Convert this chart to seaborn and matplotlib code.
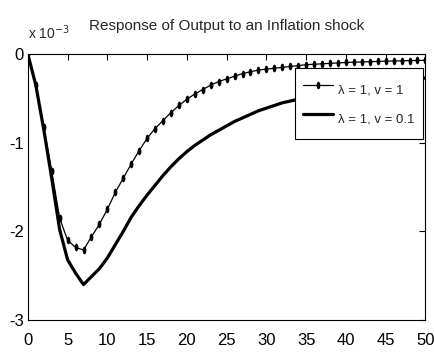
import numpy as np
import pandas as pd
import seaborn as sns
import matplotlib
matplotlib.use("Agg")
import matplotlib.pyplot as plt

# horizon (periods)
periods = list(range(51))

# response of output, in units of 1e-3
resp_v1 = [0.0, -0.35, -0.82, -1.32, -1.85, -2.10, -2.18, -2.21, -2.06, -1.92,
           -1.75, -1.56, -1.40, -1.24, -1.09, -0.95, -0.84, -0.75, -0.66, -0.58,
           -0.51, -0.45, -0.40, -0.35, -0.31, -0.28, -0.25, -0.22, -0.20, -0.18,
           -0.17, -0.16, -0.15, -0.14, -0.13, -0.12, -0.115, -0.11, -0.105, -0.10,
           -0.095, -0.092, -0.089, -0.086, -0.083, -0.080, -0.078, -0.076, -0.074, -0.072,
           -0.07]
resp_v01 = [0.0, -0.35, -0.85, -1.40, -1.98, -2.32, -2.47, -2.60, -2.51, -2.42,
            -2.30, -2.15, -2.00, -1.84, -1.71, -1.59, -1.48, -1.37, -1.27, -1.18,
            -1.10, -1.03, -0.97, -0.91, -0.86, -0.81, -0.76, -0.72, -0.68, -0.64,
            -0.61, -0.58, -0.55, -0.53, -0.51, -0.49, -0.47, -0.45, -0.43, -0.41,
            -0.40, -0.38, -0.37, -0.35, -0.34, -0.32, -0.31, -0.30, -0.29, -0.28,
            -0.27]

labels = ["λ = 1, v = 1", "λ = 1, v = 0.1"]
title = "Response of Output to an Inflation shock"

sns.set_style("white")
plt.rcParams['font.family'] = ['Liberation Sans', 'DejaVu Sans']

# tall narrow dot, like the squeezed markers of the original
th = np.linspace(0, 2 * np.pi, 24)
dot = list(zip(0.5 * np.cos(th), np.sin(th)))

fig = plt.figure(figsize=(4.35, 3.58), dpi=100)
ax = fig.add_axes([0.064, 0.106, 0.914, 0.743])

sns.lineplot(x=periods, y=resp_v1, ax=ax, color="black", linewidth=0.9,
             marker=dot, markersize=5.5, markeredgewidth=0, label=labels[0])
sns.lineplot(x=periods, y=resp_v01, ax=ax, color="black", linewidth=2.3,
             label=labels[1])

ax.set_xlim(0, 50)
ax.set_ylim(-3, 0)
ax.set_xticks(range(0, 51, 5))
ax.set_yticks([-3, -2, -1, 0])
ax.set_yticklabels(["-3", "-2", "-1", "0"])
ax.tick_params(direction="in", length=4, width=0.8, top=True, right=True,
               labelsize=12, pad=3, colors="black")
ax.tick_params(axis="x", pad=9)
for s in ax.spines.values():
    s.set_color("black")
    s.set_linewidth(0.8)

ax.set_title(title, fontsize=11, pad=17)
ax.text(0.0, 1.045, "x 10$^{-3}$", transform=ax.transAxes, fontsize=10,
        ha="left", va="bottom")

leg = ax.legend(loc="upper right", bbox_to_anchor=(0.993, 0.947), fancybox=False,
                edgecolor="black", framealpha=1, fontsize=9.5, handlelength=2.3,
                handletextpad=0.4, borderpad=0.6, borderaxespad=0,
                handleheight=2.7, labelspacing=0.2)
leg.get_frame().set_linewidth(0.8)

fig.savefig("out.png", dpi=100)
